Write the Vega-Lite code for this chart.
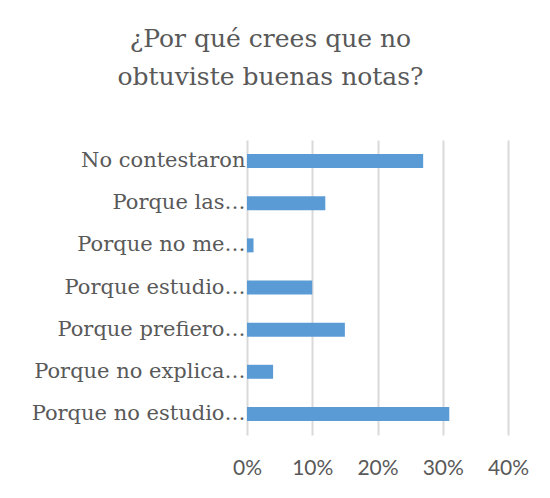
{
  "$schema": "https://vega.github.io/schema/vega-lite/v6.json",
  "autosize": {"type": "none"},
  "width": 261,
  "height": 295,
  "padding": {"left": 247, "top": 140, "right": 42, "bottom": 63},
  "background": "white",
  "title": {
    "text": ["¿Por qué crees que no", "obtuviste buenas notas?"],
    "font": "DejaVu Serif",
    "fontSize": 25,
    "fontWeight": "normal",
    "color": "#595959",
    "anchor": "middle",
    "dx": -107,
    "lineHeight": 38,
    "offset": 50
  },
  "data": {
    "values": [
      {"razon": "No contestaron\u2003", "pct": 0.27},
      {"razon": "Porque las…", "pct": 0.12},
      {"razon": "Porque no me…", "pct": 0.01},
      {"razon": "Porque estudio…", "pct": 0.10},
      {"razon": "Porque prefiero…", "pct": 0.15},
      {"razon": "Porque no explica…", "pct": 0.04},
      {"razon": "Porque no estudio…", "pct": 0.31}
    ]
  },
  "mark": {"type": "bar", "color": "#5B9BD5"},
  "encoding": {
    "y": {
      "field": "razon",
      "type": "nominal",
      "sort": null,
      "scale": {"paddingInner": 0.668, "paddingOuter": 0.334},
      "axis": {
        "title": null,
        "domain": false,
        "ticks": false,
        "grid": false,
        "labelFont": "DejaVu Serif",
        "labelFontSize": 21,
        "labelColor": "#595959",
        "labelPadding": 2,
        "labelLimit": 400
      }
    },
    "x": {
      "field": "pct",
      "type": "quantitative",
      "scale": {"domain": [0, 0.4], "nice": false},
      "axis": {
        "title": null,
        "format": ".0%",
        "values": [0, 0.1, 0.2, 0.3, 0.4],
        "domain": false,
        "ticks": false,
        "grid": true,
        "gridColor": "#d9d9d9",
        "gridWidth": 2,
        "labelFont": "Lato",
        "labelFontSize": 21,
        "labelColor": "#595959",
        "labelPadding": 22,
        "labelFlush": false
      }
    }
  },
  "config": {"view": {"stroke": null}}
}
